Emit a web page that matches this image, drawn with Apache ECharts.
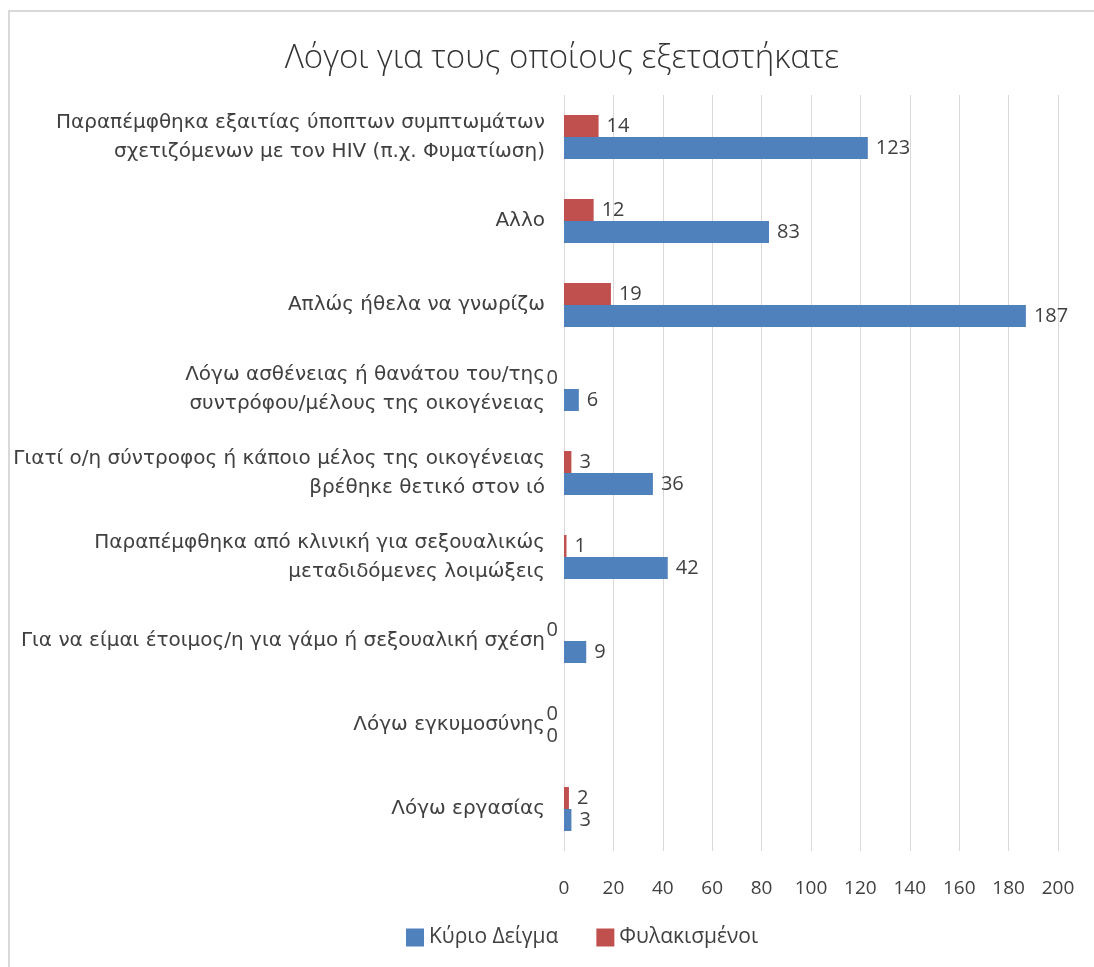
<!DOCTYPE html>
<html>
<head>
<meta charset="utf-8">
<script src="https://cdn.jsdelivr.net/npm/echarts@6/dist/echarts.min.js"></script>
<style>
  html, body { margin: 0; padding: 0; background: #ffffff; }
  #chart { width: 1094px; height: 967px; }
</style>
</head>
<body>
<div id="chart"></div>
<script>
// Reasons for testing, top to bottom
const categories = [
  'Παραπέμφθηκα εξαιτίας ύποπτων συμπτωμάτων\nσχετιζόμενων με τον HIV (π.χ. Φυματίωση)',
  'Αλλο',
  'Απλώς ήθελα να γνωρίζω',
  'Λόγω ασθένειας ή θανάτου του/της\nσυντρόφου/μέλους της οικογένειας',
  'Γιατί ο/η σύντροφος ή κάποιο μέλος της οικογένειας\nβρέθηκε θετικό στον ιό',
  'Παραπέμφθηκα από κλινική για σεξουαλικώς\nμεταδιδόμενες λοιμώξεις',
  'Για να είμαι έτοιμος/η για γάμο ή σεξουαλική σχέση',
  'Λόγω εγκυμοσύνης',
  'Λόγω εργασίας'
];
const mainSample = [123, 83, 187, 6, 36, 42, 9, 0, 3];
const prisoners = [14, 12, 19, 0, 3, 1, 0, 0, 2];
const seriesNames = ['Κύριο Δείγμα', 'Φυλακισμένοι'];
const xTicks = { min: 0, max: 200, interval: 20 };

const labelFont = { fontFamily: '"Open Sans", sans-serif', fontSize: 20, color: '#404040' };

// zero values put their label just left of the axis
function withLabels(values) {
  return values.map(v => v === 0
    ? { value: v, label: { position: 'left', distance: 6 } }
    : { value: v });
}

const chart = echarts.init(document.getElementById('chart'), null, { renderer: 'canvas' });
chart.setOption({
  animation: false,
  backgroundColor: '#ffffff',
  title: {
    text: 'Λόγοι για τους οποίους εξεταστήκατε',
    left: 557,
    textAlign: 'center',
    top: 37,
    textStyle: { fontFamily: '"Open Sans", sans-serif', fontWeight: 300, fontSize: 33, color: '#333333' }
  },
  legend: {
    data: seriesNames,
    left: 401,
    top: 922,
    itemWidth: 18,
    itemHeight: 18,
    itemGap: 38,
    icon: 'rect',
    textStyle: { fontFamily: '"Open Sans", sans-serif', fontSize: 21, color: '#404040' }
  },
  grid: { left: 564, right: 36, top: 95, bottom: 116 },
  xAxis: {
    type: 'value',
    min: xTicks.min,
    max: xTicks.max,
    interval: xTicks.interval,
    axisLine: { show: false },
    axisTick: { show: false },
    splitLine: { lineStyle: { color: '#d9d9d9', width: 1 } },
    axisLabel: { margin: 28, fontFamily: '"Open Sans", sans-serif', fontSize: 19, color: '#404040' }
  },
  yAxis: {
    type: 'category',
    inverse: true,
    data: categories,
    axisLine: { show: false },
    axisTick: { show: false },
    axisLabel: {
      margin: 19,
      fontFamily: '"DejaVu Sans", sans-serif',
      fontSize: 20,
      lineHeight: 29,
      color: '#404040',
      align: 'right'
    }
  },
  series: [
    {
      name: seriesNames[1],
      type: 'bar',
      barWidth: 22,
      barGap: '0%',
      itemStyle: { color: '#c0504d' },
      label: Object.assign({ show: true, position: 'right', distance: 8 }, labelFont),
      data: withLabels(prisoners)
    },
    {
      name: seriesNames[0],
      type: 'bar',
      barWidth: 22,
      barGap: '0%',
      itemStyle: { color: '#4f81bd' },
      label: Object.assign({ show: true, position: 'right', distance: 8 }, labelFont),
      data: withLabels(mainSample)
    }
  ],
  graphic: [{
    type: 'rect',
    silent: true,
    shape: { x: 9, y: 11, width: 1200, height: 1100 },
    style: { fill: 'none', stroke: '#d9d9d9', lineWidth: 2 }
  }]
});
</script>
</body>
</html>
